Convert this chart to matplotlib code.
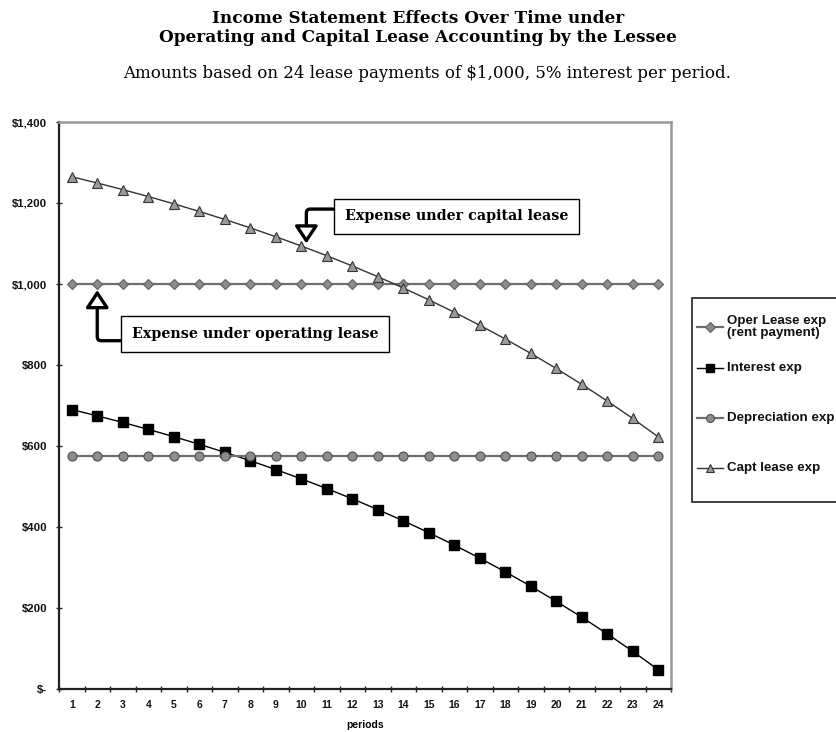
import matplotlib
matplotlib.use("Agg")
import matplotlib.pyplot as plt
from matplotlib.lines import Line2D
from matplotlib.patches import Rectangle
from matplotlib.ticker import FixedLocator, FuncFormatter

# Lease schedule: 24 payments of $1,000 at 5% per period
periods = list(range(1, 25))
oper_lease_exp = [1000.00] * 24
interest_exp = [689.93, 674.43, 658.15, 641.06, 623.11, 604.27, 584.48, 563.70,
                541.89, 518.98, 494.93, 469.68, 443.16, 415.32, 386.09, 355.39,
                323.16, 289.32, 253.78, 216.47, 177.30, 136.16, 92.97, 47.62]
depreciation_exp = [574.94] * 24
capt_lease_exp = [1264.87, 1249.37, 1233.09, 1216.00, 1198.05, 1179.21, 1159.42,
                  1138.64, 1116.83, 1093.92, 1069.87, 1044.62, 1018.10, 990.26,
                  961.03, 930.33, 898.10, 864.26, 828.72, 791.41, 752.24, 711.10,
                  667.91, 622.56]
y_ticks = [0, 200, 400, 600, 800, 1000, 1200, 1400]
series_labels = ["Oper Lease exp\n(rent payment)", "Interest exp",
                 "Depreciation exp", "Capt lease exp"]

title = ("Income Statement Effects Over Time under\n"
         "Operating and Capital Lease Accounting by the Lessee")
subtitle = "Amounts based on 24 lease payments of $1,000, 5% interest per period."

W, H = 836, 732
fig = plt.figure(figsize=(W / 100, H / 100), dpi=100)
ax = fig.add_axes([59 / W, 1 - 689 / H, 612 / W, 567 / H])

sans = ["Liberation Sans", "DejaVu Sans"]
serif = ["DejaVu Serif"]

styles = [
    dict(color="#6e6e6e", lw=1.6, marker="D", ms=5.5, mfc="#8c8c8c",
         mec="#5e5e5e", mew=0.8),
    dict(color="black", lw=1.0, marker="s", ms=6.5, mfc="black", mec="black"),
    dict(color="#6e6e6e", lw=1.6, marker="o", ms=6.5, mfc="#8c8c8c",
         mec="#4e4e4e", mew=0.8),
    dict(color="#333333", lw=1.0, marker="^", ms=6.5, mfc="#9a9a9a",
         mec="#333333", mew=0.8),
]
series = [oper_lease_exp, interest_exp, depreciation_exp, capt_lease_exp]
for values, st, lab in zip(series, styles, series_labels):
    ax.plot(periods, values, label=lab, **st)

ax.set_xlim(0.5, 24.5)
ax.set_ylim(0, 1400)

ax.xaxis.set_major_locator(FixedLocator(periods))
ax.xaxis.set_minor_locator(FixedLocator([p - 0.5 for p in periods] + [24.5]))
ax.tick_params(axis="x", which="major", length=0, pad=8)
ax.tick_params(axis="x", which="minor", length=4, width=1, direction="inout",
               color="#222222")
ax.yaxis.set_major_locator(FixedLocator(y_ticks))
ax.yaxis.set_major_formatter(FuncFormatter(
    lambda v, _: "$-" if v == 0 else f"${v:,.0f}"))
ax.tick_params(axis="y", length=5, width=1, direction="inout", pad=6,
               color="#222222")
for lab in ax.get_xticklabels():
    lab.set_fontfamily(sans)
    lab.set_fontweight("bold")
    lab.set_fontsize(7.5)
    lab.set_color("#111111")
for lab in ax.get_yticklabels():
    lab.set_fontfamily(sans)
    lab.set_fontweight("bold")
    lab.set_fontsize(8.2)
    lab.set_color("#111111")

ax.spines["left"].set_color("#222222")
ax.spines["bottom"].set_color("#222222")
ax.spines["left"].set_linewidth(1.6)
ax.spines["bottom"].set_linewidth(1.6)
ax.spines["top"].set_color("#9a9a9a")
ax.spines["right"].set_color("#9a9a9a")
ax.spines["top"].set_linewidth(1.8)
ax.spines["right"].set_linewidth(1.8)

ax.set_xlabel("periods", fontfamily=sans, fontweight="bold", fontsize=7.5,
              labelpad=7)

fig.text(0.5, 1 - 28 / H, title, ha="center", va="center",
         fontfamily=serif, fontweight="bold", fontsize=12.2, linespacing=1.1)
fig.text(0.511, 1 - 73 / H, subtitle, ha="center", va="center",
         fontfamily=serif, fontsize=12)

# Callout boxes with elbow arrows
box = dict(boxstyle="square,pad=0.75", fc="white", ec="black", lw=1.0)
ax.text(16.1, 1167, "Expense under capital lease", ha="center", va="center",
        fontfamily=serif, fontweight="bold", fontsize=10.3, bbox=box, zorder=6)
ax.text(8.2, 877, "Expense under operating lease", ha="center", va="center",
        fontfamily=serif, fontweight="bold", fontsize=10.3, bbox=box, zorder=6)

arrow = dict(arrowstyle="-|>,head_length=0.75,head_width=0.5", fc="white",
             ec="black", lw=2.4, mutation_scale=14,
             connectionstyle="angle,angleA=0,angleB=90,rad=4",
             shrinkA=0, shrinkB=0)
ax.annotate("", xy=(10.2, 1100), xytext=(11.3, 1185), arrowprops=arrow,
            zorder=5)
ax.annotate("", xy=(2.0, 985), xytext=(3.2, 860), arrowprops=arrow, zorder=5)

# Legend panel at the right edge (extends past the figure border)
fig.patches.append(Rectangle((692 / W, 1 - 502 / H), 200 / W, 204 / H,
                             transform=fig.transFigure, fc="white",
                             ec="#333333", lw=1.3))
entry_y = [327, 368, 418, 468]
for st, lab, y in zip(styles, series_labels, entry_y):
    yf = 1 - y / H
    ms = st["ms"] - 0.8
    fig.add_artist(Line2D([697 / W, 723 / W], [yf, yf],
                          transform=fig.transFigure, color=st["color"],
                          lw=st["lw"]))
    fig.add_artist(Line2D([710 / W], [yf], transform=fig.transFigure,
                          ls="none", marker=st["marker"], ms=ms,
                          mfc=st["mfc"], mec=st["mec"],
                          mew=st.get("mew", 1.0)))
    fig.text(727 / W, yf, lab, ha="left", va="center", fontfamily=sans,
             fontweight="bold", fontsize=9.6, linespacing=1.05,
             color="#111111")

fig.savefig("out.png", dpi=100)
